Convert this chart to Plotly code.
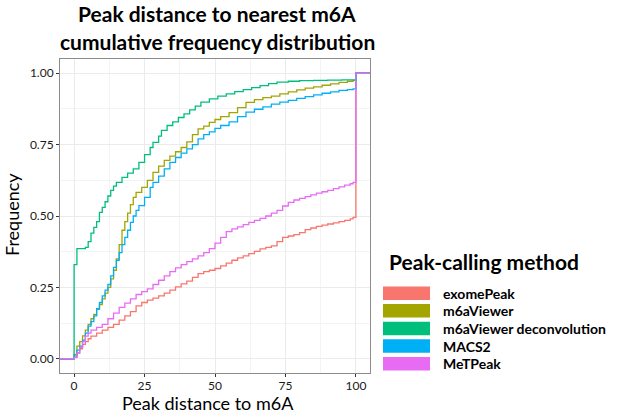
import plotly.graph_objects as go

methods = ["exomePeak", "m6aViewer", "m6aViewer deconvolution", "MACS2", "MeTPeak"]
colors = ["#F8766D", "#A3A500", "#00BF7D", "#00B0F6", "#E76BF3"]

exome_x = [-10, 0, 1, 2, 3, 4, 5, 6, 8, 10, 12, 14, 16, 18, 20, 22, 24, 26, 28, 30, 32, 34, 36, 38, 40, 42, 44, 46, 48, 50, 52, 54, 56, 58, 60, 62, 64, 66, 68, 70, 72, 74, 76, 78, 80, 82, 84, 86, 88, 90, 92, 94, 96, 98, 99, 100, 110]
exome_y = [0, 0.005, 0.021, 0.035, 0.05, 0.06, 0.07, 0.079, 0.09, 0.10, 0.11, 0.12, 0.135, 0.15, 0.165, 0.185, 0.197, 0.205, 0.212, 0.22, 0.23, 0.24, 0.252, 0.262, 0.272, 0.285, 0.298, 0.305, 0.31, 0.316, 0.325, 0.335, 0.345, 0.353, 0.36, 0.368, 0.376, 0.385, 0.39, 0.395, 0.41, 0.425, 0.43, 0.435, 0.442, 0.452, 0.458, 0.464, 0.468, 0.472, 0.476, 0.48, 0.485, 0.49, 0.495, 1.0, 1.0]

viewer_x = [-10, 0, 1, 2, 3, 4, 5, 6, 7, 8, 9, 10, 11, 12, 13, 14, 15, 16, 17, 18, 19, 20, 21, 22, 24, 26, 28, 30, 32, 34, 36, 38, 40, 42, 44, 46, 48, 50, 52, 55, 58, 61, 64, 67, 70, 73, 76, 79, 82, 85, 88, 91, 94, 97, 99, 100, 110]
viewer_y = [0, 0.015, 0.044, 0.06, 0.08, 0.10, 0.12, 0.14, 0.155, 0.173, 0.19, 0.21, 0.23, 0.25, 0.28, 0.31, 0.35, 0.40, 0.45, 0.48, 0.51, 0.54, 0.565, 0.583, 0.60, 0.625, 0.653, 0.675, 0.695, 0.71, 0.725, 0.74, 0.76, 0.785, 0.805, 0.815, 0.828, 0.838, 0.848, 0.862, 0.88, 0.898, 0.908, 0.915, 0.92, 0.928, 0.935, 0.942, 0.948, 0.952, 0.958, 0.963, 0.968, 0.972, 0.975, 1.0, 1.0]

deconv_x = [-10, 0, 1, 4, 5, 6, 7, 8, 9, 10, 11, 12, 13, 14, 15, 17, 19, 21, 23, 25, 27, 28, 30, 31, 33, 35, 37, 39, 41, 43, 45, 48, 51, 54, 57, 60, 63, 66, 69, 72, 76, 80, 85, 90, 95, 100, 110]
deconv_y = [0, 0.33, 0.386, 0.39, 0.41, 0.44, 0.46, 0.48, 0.513, 0.53, 0.55, 0.57, 0.59, 0.605, 0.618, 0.635, 0.65, 0.665, 0.688, 0.715, 0.74, 0.758, 0.78, 0.80, 0.817, 0.83, 0.845, 0.858, 0.872, 0.885, 0.899, 0.91, 0.92, 0.928, 0.936, 0.943, 0.95, 0.957, 0.964, 0.969, 0.972, 0.974, 0.975, 0.976, 0.977, 1.0, 1.0]

macs_x = [-10, 0, 1, 2, 3, 4, 5, 6, 7, 8, 9, 10, 11, 12, 13, 14, 15, 16, 17, 18, 19, 20, 21, 22, 23, 25, 27, 28, 30, 32, 34, 36, 38, 40, 42, 44, 46, 48, 50, 52, 55, 58, 61, 64, 67, 70, 73, 76, 79, 82, 85, 88, 91, 94, 97, 99, 100, 110]
macs_y = [0, 0.01, 0.03, 0.044, 0.065, 0.09, 0.114, 0.13, 0.15, 0.175, 0.197, 0.22, 0.24, 0.26, 0.29, 0.32, 0.345, 0.372, 0.40, 0.425, 0.45, 0.478, 0.50, 0.52, 0.536, 0.565, 0.60, 0.618, 0.64, 0.665, 0.688, 0.705, 0.72, 0.735, 0.75, 0.77, 0.785, 0.795, 0.807, 0.817, 0.83, 0.848, 0.864, 0.874, 0.882, 0.892, 0.899, 0.905, 0.912, 0.918, 0.924, 0.93, 0.935, 0.94, 0.943, 0.945, 1.0, 1.0]

metpeak_x = [-10, 0, 1, 2, 3, 4, 5, 6, 8, 10, 12, 14, 16, 18, 20, 22, 24, 26, 28, 30, 32, 34, 36, 38, 40, 42, 44, 46, 48, 50, 52, 54, 56, 58, 60, 62, 64, 66, 68, 70, 72, 74, 76, 78, 80, 82, 84, 86, 88, 90, 92, 94, 96, 98, 99, 100, 110]
metpeak_y = [0, 0.005, 0.02, 0.04, 0.06, 0.079, 0.09, 0.10, 0.11, 0.12, 0.14, 0.16, 0.18, 0.195, 0.21, 0.225, 0.235, 0.245, 0.26, 0.275, 0.29, 0.305, 0.318, 0.33, 0.34, 0.35, 0.36, 0.372, 0.386, 0.405, 0.425, 0.445, 0.455, 0.462, 0.47, 0.478, 0.485, 0.492, 0.50, 0.51, 0.52, 0.535, 0.548, 0.556, 0.562, 0.568, 0.574, 0.58, 0.585, 0.59, 0.596, 0.602, 0.608, 0.613, 0.618, 1.0, 1.0]

x_ticks = [0, 25, 50, 75, 100]
y_ticks = [0, 0.25, 0.5, 0.75, 1.0]
y_tick_labels = ["0.00", "0.25", "0.50", "0.75", "1.00"]

series = [(exome_x, exome_y), (viewer_x, viewer_y), (deconv_x, deconv_y), (macs_x, macs_y), (metpeak_x, metpeak_y)]

fig = go.Figure()
for name, col, (xs, ys) in zip(methods, colors, series):
    fig.add_trace(go.Scatter(x=xs, y=ys, mode="lines", name=name,
                             line=dict(color=col, width=1.3, shape="hv"),
                             showlegend=False))

FONT = "Lato, 'Open Sans', sans-serif"
L, R, T, B = 60, 255, 59, 40
W, H = 625, 413
pw = W - L - R
ph = H - T - B

def px2paper_x(px):
    return (px - L) / pw

def px2paper_y(py):
    return (H - B - py) / ph

shapes = []
annotations = []

def text_at(txt, px, py, size, xanchor="center", bold=False, angle=0):
    annotations.append(dict(text=("<b>%s</b>" % txt) if bold else txt, xref="paper", yref="paper",
                            x=px2paper_x(px), y=px2paper_y(py), xanchor=xanchor, yanchor="middle",
                            textangle=angle, showarrow=False,
                            font=dict(family=FONT, size=size, color="black")))

# Titles
text_at("Peak distance to nearest m6A", 217, 13, 21, bold=True)
text_at("cumulative frequency distribution", 217, 41, 21, bold=True)
text_at("Peak distance to m6A", 208, 403, 18)
text_at("Frequency", 12, 215, 18, angle=-90)

# Legend
text_at("Peak-calling method", 387, 261, 21, xanchor="left", bold=True)
for i, (name, col) in enumerate(zip(methods, colors)):
    top = 286.5 + i * 17.6
    shapes.append(dict(type="rect", xref="paper", yref="paper",
                       x0=px2paper_x(383), x1=px2paper_x(430),
                       y0=px2paper_y(top), y1=px2paper_y(top + 13.5),
                       fillcolor=col, line=dict(width=0)))
    text_at(name, 441, top + 6.8, 14, xanchor="left", bold=True)

axis_common = dict(ticks="outside", ticklen=3, tickcolor="#333333",
                   showgrid=True, gridcolor="#ebebeb", gridwidth=1,
                   showline=True, mirror=True, linecolor="#8c8c8c", linewidth=1, zeroline=False,
                   tickfont=dict(family=FONT, size=12, color="#1a1a1a"), automargin=False)

fig.update_layout(
    width=W, height=H,
    margin=dict(l=L, r=R, t=T, b=B),
    paper_bgcolor="white", plot_bgcolor="white",
    xaxis=dict(range=[-5, 105], tickvals=x_ticks, ticklabelstandoff=-1,
               minor=dict(tick0=0, dtick=12.5, showgrid=True, gridcolor="#f4f4f4", gridwidth=0.7),
               **axis_common),
    yaxis=dict(range=[-0.05, 1.05], tickvals=y_ticks, ticktext=y_tick_labels,
               minor=dict(tick0=0, dtick=0.125, showgrid=True, gridcolor="#f4f4f4", gridwidth=0.7),
               **axis_common),
    shapes=shapes, annotations=annotations,
)

fig.write_html("out.html", config={"displayModeBar": False},
               post_script="document.body.style.margin='0';document.body.style.overflow='hidden';")
